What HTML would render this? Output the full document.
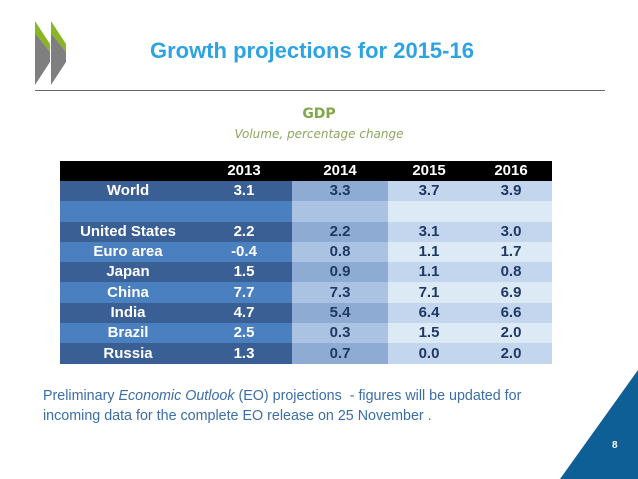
<!DOCTYPE html>
<html><head><meta charset="utf-8"><style>
body{margin:0;width:638px;height:479px;background:#fff;position:relative;overflow:hidden;font-family:"Liberation Sans",sans-serif}
.abs{position:absolute}
table{position:absolute;left:60px;top:161px;border-collapse:collapse;font-weight:bold;font-size:15px}
td{padding:0;text-align:center;height:20.3px;line-height:20px}
tr.h td{background:#000;color:#fff;height:20px}
tr.d td.c0,tr.d td.c1{background:#3a5f94;color:#fff}
tr.l td.c0,tr.l td.c1{background:#4a7fc0;color:#fff}
tr.d td.c2{background:#8eabd4;color:#1f3864}
tr.l td.c2{background:#aac3e3;color:#1f3864}
tr.d td.c3,tr.d td.c4{background:#c3d6ee;color:#1f3864}
tr.l td.c3,tr.l td.c4{background:#dbeaf5;color:#1f3864}
</style></head><body>
<svg class="abs" style="left:0;top:0" width="80" height="90">
<polygon points="35,21 50,44 50,52 35,33" fill="#8ab626"/><polygon points="35,33 50,52 50,62 35,85" fill="#7f7f7f"/>
<polygon points="51,21 66,44 66,52 51,33" fill="#8ab626"/><polygon points="51,33 66,52 66,62 51,85" fill="#7f7f7f"/>
</svg>
<div class="abs" style="left:150px;top:38px;font-size:22px;font-weight:bold;color:#2ea3e3">Growth projections for 2015-16</div>
<div class="abs" style="left:35px;top:90px;width:570px;height:1px;background:#666"></div>
<div class="abs" style="left:0;width:638px;text-align:center;top:106px;font-size:14px;font-weight:bold;color:#7ea84a;font-family:'DejaVu Sans',sans-serif">GDP</div>
<div class="abs" style="left:0;width:638px;text-align:center;top:127px;font-size:12px;font-style:italic;color:#8aa860;font-family:'DejaVu Sans',sans-serif">Volume, percentage change</div>
<table>
<tr class="h"><td style="width:136px"></td><td style="width:96px">2013</td><td style="width:96px">2014</td><td style="width:82px">2015</td><td style="width:82px">2016</td></tr>
<tr class="d"><td class="c0">World</td><td class="c1">3.1</td><td class="c2">3.3</td><td class="c3">3.7</td><td class="c4">3.9</td></tr>
<tr class="l"><td class="c0"></td><td class="c1"></td><td class="c2"></td><td class="c3"></td><td class="c4"></td></tr>
<tr class="d"><td class="c0">United States</td><td class="c1">2.2</td><td class="c2">2.2</td><td class="c3">3.1</td><td class="c4">3.0</td></tr>
<tr class="l"><td class="c0">Euro area</td><td class="c1">-0.4</td><td class="c2">0.8</td><td class="c3">1.1</td><td class="c4">1.7</td></tr>
<tr class="d"><td class="c0">Japan</td><td class="c1">1.5</td><td class="c2">0.9</td><td class="c3">1.1</td><td class="c4">0.8</td></tr>
<tr class="l"><td class="c0">China</td><td class="c1">7.7</td><td class="c2">7.3</td><td class="c3">7.1</td><td class="c4">6.9</td></tr>
<tr class="d"><td class="c0">India</td><td class="c1">4.7</td><td class="c2">5.4</td><td class="c3">6.4</td><td class="c4">6.6</td></tr>
<tr class="l"><td class="c0">Brazil</td><td class="c1">2.5</td><td class="c2">0.3</td><td class="c3">1.5</td><td class="c4">2.0</td></tr>
<tr class="d"><td class="c0">Russia</td><td class="c1">1.3</td><td class="c2">0.7</td><td class="c3">0.0</td><td class="c4">2.0</td></tr>
</table>
<div class="abs" style="left:43px;top:386px;font-size:14.3px;line-height:20px;color:#3a6ea8">Preliminary <i>Economic Outlook</i> (EO) projections &nbsp;- figures will be updated for<br>incoming data for the complete EO release on 25 November .</div>
<svg class="abs" style="left:560px;top:370px" width="78" height="109"><polygon points="78,0 78,109 0,109" fill="#0d5f96"/></svg>
<div class="abs" style="left:612px;top:440px;font-size:10px;font-weight:bold;color:#fff">8</div>
</body></html>
